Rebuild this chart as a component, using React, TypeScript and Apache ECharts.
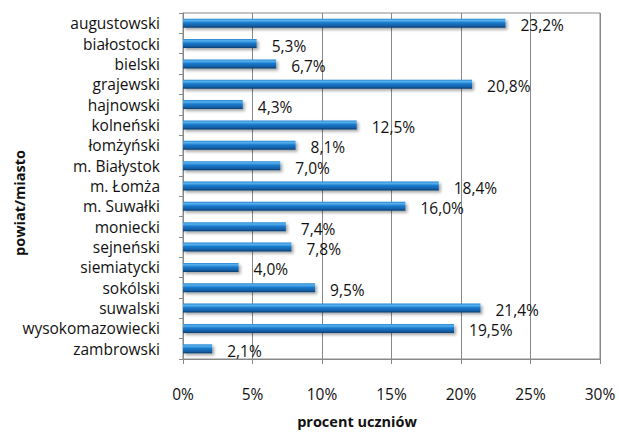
import React, { useEffect, useRef } from "react";
import * as echarts from "echarts";

const categories = [
  "augustowski", "białostocki", "bielski", "grajewski", "hajnowski", "kolneński",
  "łomżyński", "m. Białystok", "m. Łomża", "m. Suwałki", "moniecki", "sejneński",
  "siemiatycki", "sokólski", "suwalski", "wysokomazowiecki", "zambrowski",
];
const values = [23.2, 5.3, 6.7, 20.8, 4.3, 12.5, 8.1, 7.0, 18.4, 16.0, 7.4, 7.8, 4.0, 9.5, 21.4, 19.5, 2.1];
const xTicks = [0, 5, 10, 15, 20, 25, 30];
const xTitle = "procent uczniów";
const yTitle = "powiat/miasto";

const FONT = "Open Sans";

export default function App() {
  const ref = useRef<HTMLDivElement>(null);
  useEffect(() => {
    document.body.style.margin = "0";
    const chart = echarts.init(ref.current!, null, { renderer: "svg" });
    chart.setOption({
      animation: false,
      backgroundColor: "#fff",
      grid: { left: 183, right: 19, top: 13, bottom: 73, show: true, borderColor: "#888", borderWidth: 1 },
      xAxis: {
        type: "value",
        min: xTicks[0],
        max: xTicks[xTicks.length - 1],
        interval: 5,
        axisLine: { show: true, lineStyle: { color: "#888" } },
        axisTick: { show: true, length: 5, lineStyle: { color: "#888" } },
        splitLine: { show: true, lineStyle: { color: "#888", width: 1 } },
        axisLabel: { margin: 27, fontFamily: FONT, fontSize: 15.5, color: "#111", formatter: (v: number) => v + "%" },
      },
      yAxis: {
        type: "category",
        data: categories,
        inverse: true,
        axisLine: { show: true, lineStyle: { color: "#888" } },
        axisTick: { show: true, length: 4, lineStyle: { color: "#888" } },
        axisLabel: { interval: 0, margin: 23, fontFamily: FONT, fontSize: 15.5, color: "#111" },
      },
      series: [
        {
          type: "bar",
          data: values,
          barWidth: 9,
          itemStyle: {
            color: new echarts.graphic.LinearGradient(0, 0, 0, 1, [
              { offset: 0, color: "#2585d2" },
              { offset: 0.2, color: "#58b2ec" },
              { offset: 0.45, color: "#1b7bce" },
              { offset: 0.8, color: "#135ea5" },
              { offset: 1, color: "#0a3c6c" },
            ]),
            shadowColor: "rgba(0,0,0,0.35)",
            shadowBlur: 3,
            shadowOffsetX: 2,
            shadowOffsetY: 2,
          },
          label: {
            show: true,
            position: "right",
            distance: 15,
            offset: [0, 2],
            fontFamily: FONT,
            fontSize: 15.5,
            color: "#111",
            formatter: (p: any) => p.value.toFixed(1).replace(".", ",") + "%",
          },
        },
      ],
      graphic: [
        {
          type: "text",
          x: 357,
          y: 421,
          style: { text: xTitle, font: `bold 14.5px "${FONT}"`, fill: "#111", align: "center", verticalAlign: "middle" },
        },
        {
          type: "text",
          x: 19,
          y: 203,
          rotation: Math.PI / 2,
          style: { text: yTitle, font: `bold 14.5px "${FONT}"`, fill: "#111", align: "center", verticalAlign: "middle" },
        },
      ],
    });
    return () => chart.dispose();
  }, []);
  return <div ref={ref} style={{ width: 619, height: 432, position: "absolute", left: 0, top: 0 }} />;
}
